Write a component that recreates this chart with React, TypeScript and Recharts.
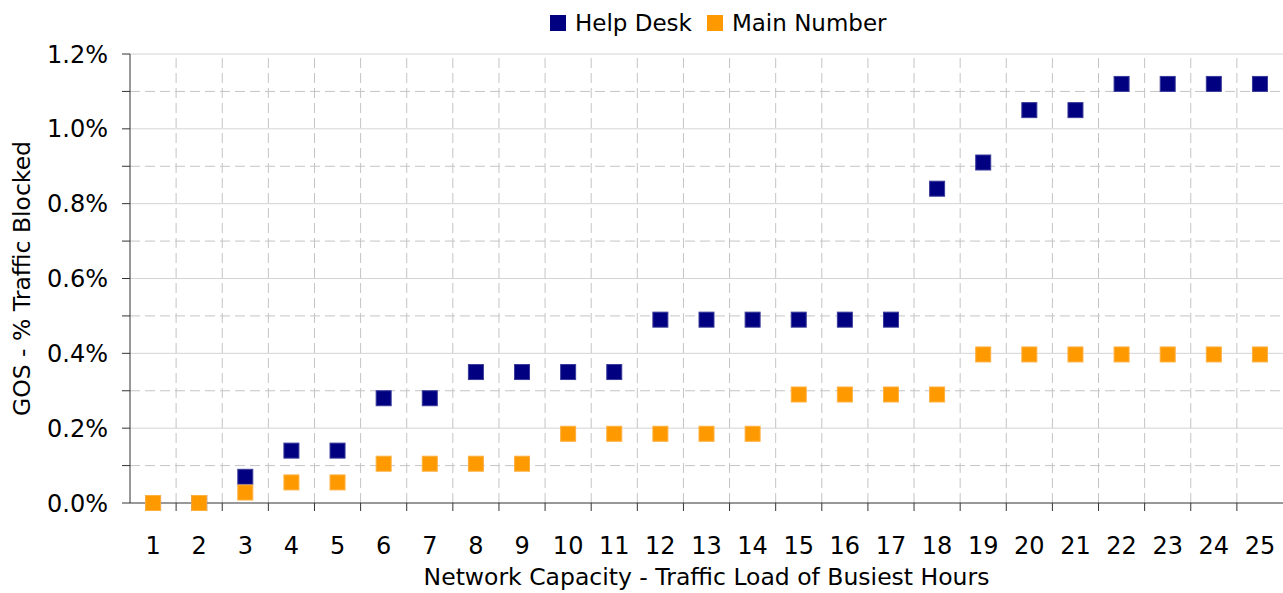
import React from 'react';
import {
	ScatterChart,
	Scatter,
	XAxis,
	YAxis,
	Legend,
	ReferenceLine,
} from 'recharts';

const hours = [1, 2, 3, 4, 5, 6, 7, 8, 9, 10, 11, 12, 13, 14, 15, 16, 17, 18, 19, 20, 21, 22, 23, 24, 25];
const helpDesk = [0, 0, 0.07, 0.14, 0.14, 0.28, 0.28, 0.35, 0.35, 0.35, 0.35, 0.49, 0.49, 0.49, 0.49, 0.49, 0.49, 0.84, 0.91, 1.05, 1.05, 1.12, 1.12, 1.12, 1.12];
const mainNumber = [0, 0, 0.028, 0.055, 0.055, 0.105, 0.105, 0.105, 0.105, 0.185, 0.185, 0.185, 0.185, 0.185, 0.29, 0.29, 0.29, 0.29, 0.397, 0.397, 0.397, 0.397, 0.397, 0.397, 0.397];

const yTicks = [0, 0.1, 0.2, 0.3, 0.4, 0.5, 0.6, 0.7, 0.8, 0.9, 1.0, 1.1, 1.2];
const yMajor = [0.2, 0.4, 0.6, 0.8, 1.0, 1.2];
const yMinor = [0.1, 0.3, 0.5, 0.7, 0.9, 1.1];
const labeledY = [0, 0.2, 0.4, 0.6, 0.8, 1.0, 1.2];

const W = 1283;
const H = 593;
const Y_AXIS_W = 130;
const X_AXIS_H = 90;
const TOP = 54;
const PLOT_W = W - Y_AXIS_W;
const STEP = PLOT_W / hours.length;
const MARK = 16;
const FONT = "'DejaVu Sans', Tahoma, sans-serif";

const helpData = hours.map((h, i) => ({ hour: h, value: helpDesk[i] }));
const mainData = hours.map((h, i) => ({ hour: h, value: mainNumber[i] }));
// границы между категориями (пунктир)
const bounds = hours.slice(0, -1).map((h) => h + 0.5);

const XTick = (props: any) => {
	const { x, y, payload } = props;
	const isLast = payload.value === hours[hours.length - 1];
	return (
		<g>
			{!isLast && (
				<line x1={x + STEP / 2} x2={x + STEP / 2} y1={y} y2={y + 8} stroke="#333" />
			)}
			<text x={x} y={y + 51} textAnchor="middle" fontSize={24} fontFamily={FONT} fill="#000">
				{payload.value}
			</text>
		</g>
	);
};

// квадратный маркер 16px
const squareShape = (fill: string, stroke: string) => (props: any) => {
	const { cx, cy } = props;
	return (
		<rect
			x={cx - MARK / 2 + 0.5}
			y={cy - MARK / 2 + 0.5}
			width={MARK - 1}
			height={MARK - 1}
			fill={fill}
			stroke={stroke}
			strokeWidth={1}
		/>
	);
};

const LegendContent = (props: any) => {
	const { payload } = props;
	return (
		<div style={{ display: 'flex', fontFamily: FONT, fontSize: 23, color: '#000', lineHeight: '26px' }}>
			{payload.map((p: any) => (
				<div key={p.value} style={{ display: 'flex', alignItems: 'center', marginRight: 15 }}>
					<span style={{ width: 16, height: 16, background: p.color, display: 'inline-block', marginRight: 9 }} />
					<span>{p.value}</span>
				</div>
			))}
		</div>
	);
};

export default function App() {
	return (
		<div style={{ position: 'absolute', left: 0, top: 0, width: W, height: H, background: '#fff' }}>
			<ScatterChart width={W} height={H} margin={{ top: TOP, right: 0, bottom: 0, left: 0 }}>
				{yMinor.map((v) => (
					<ReferenceLine key={'mi' + v} y={v} stroke="#c4c4c4" strokeDasharray="10 5" ifOverflow="visible" />
				))}
				{yMajor.map((v) => (
					<ReferenceLine key={'ma' + v} y={v} stroke="#d4d4d4" ifOverflow="visible" />
				))}
				{bounds.map((v) => (
					<ReferenceLine key={'b' + v} x={v} stroke="#c4c4c4" strokeDasharray="10 5" />
				))}
				<XAxis
					dataKey="hour"
					type="number"
					domain={[0.5, 25.5]}
					ticks={hours}
					interval={0}
					height={X_AXIS_H}
					tickLine={false}
					tickSize={0}
					tickMargin={0}
					tick={<XTick />}
					axisLine={{ stroke: '#333' }}
					label={{
						value: 'Network Capacity - Traffic Load of Busiest Hours',
						position: 'insideBottom',
						offset: 8,
						style: { fontFamily: FONT, fontSize: 23.5, fill: '#000' },
					}}
				/>
				<YAxis
					dataKey="value"
					type="number"
					domain={[0, 1.2]}
					ticks={yTicks}
					interval={0}
					width={Y_AXIS_W}
					tickSize={8}
					tickMargin={14}
					tickLine={{ stroke: '#333' }}
					axisLine={{ stroke: '#333' }}
					tick={{ fontSize: 24, fontFamily: FONT, fill: '#000' }}
					tickFormatter={(v: number) => (labeledY.some((l) => Math.abs(l - v) < 1e-6) ? v.toFixed(1) + '%' : '')}
					label={{
						value: 'GOS - % Traffic Blocked',
						angle: -90,
						position: 'insideLeft',
						offset: 22,
						style: { fontFamily: FONT, fontSize: 23.5, fill: '#000', textAnchor: 'middle' },
					}}
				/>
				<Legend
					verticalAlign="middle"
					align="center"
					content={<LegendContent />}
					wrapperStyle={{ top: 10, left: 550, width: 500 }}
				/>
				<Scatter
					name="Help Desk"
					data={helpData}
					fill="#000080"
					shape={squareShape('#000080', '#3a3a9a')}
					legendType="square"
					isAnimationActive={false}
				/>
				<Scatter
					name="Main Number"
					data={mainData}
					fill="#FF9900"
					shape={squareShape('#FF9900', '#ffb040')}
					legendType="square"
					isAnimationActive={false}
				/>
			</ScatterChart>
		</div>
	);
}
